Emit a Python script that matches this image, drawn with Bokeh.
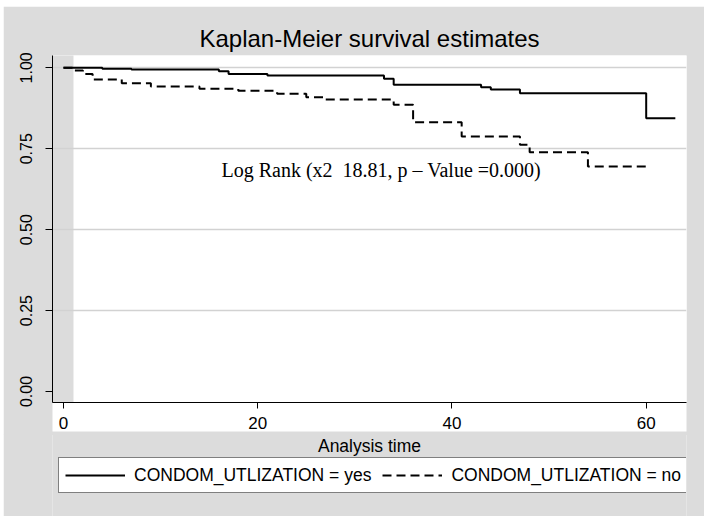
from bokeh.plotting import figure
from bokeh.models import (Range1d, FixedTicker, NumeralTickFormatter, Legend, LegendItem,
                          ColumnDataSource)
from bokeh.layouts import column
from bokeh.core.properties import value
from bokeh.embed import file_html
from bokeh.resources import INLINE

# ---- data ----
time_yes = [0, 4, 7, 16, 17, 21, 33, 34, 43, 44, 47, 60, 63]
surv_yes = [1.000, 0.997, 0.995, 0.989, 0.981, 0.976, 0.966, 0.948, 0.940, 0.933, 0.921, 0.844, 0.844]

time_no = [0, 1, 2, 3, 6, 9, 14, 18, 22, 25, 27, 34, 36, 41, 47, 48, 54, 60]
surv_no = [1.000, 0.992, 0.981, 0.964, 0.952, 0.942, 0.935, 0.929, 0.920, 0.909, 0.902, 0.886,
           0.832, 0.788, 0.762, 0.739, 0.695, 0.695]

x_ticks = [0, 20, 40, 60]
y_ticks = [0.0, 0.25, 0.50, 0.75, 1.00]
grid_ticks = [0.25, 0.50, 0.75, 1.00]

title_text = "Kaplan-Meier survival estimates"
x_label = "Analysis time"
label_yes = "CONDOM_UTLIZATION = yes"
label_no = "CONDOM_UTLIZATION = no"
note_text = "Log Rank (x2 \u00a018.81, p \u2013 Value =0.000)"

BG = "#dcdcdc"
SANS = "Liberation Sans"

# ---------------- main plot ----------------
p = figure(width=701, height=429, output_backend="svg", toolbar_location=None,
           x_range=Range1d(-1.13, 64.15), y_range=Range1d(-0.034, 1.038),
           min_border_left=49, min_border_right=18, min_border_top=49, min_border_bottom=33)
p.margin = (6, 0, 0, 3)

p.background_fill_color = "white"
p.border_fill_color = BG
p.outline_line_color = None

p.title.text = title_text
p.title.align = "center"
p.title.standoff = 8
p.title.text_font = SANS
p.title.text_font_size = "24px"
p.title.text_font_style = "normal"
p.title.text_color = "black"

# gray strip between y-axis and plot region (inside the frame)
p.quad(left=[-5], right=[1.03], bottom=[-1], top=[2], fill_color=BG, line_color=None, level="image")

p.xaxis.ticker = FixedTicker(ticks=x_ticks)
p.yaxis.ticker = FixedTicker(ticks=y_ticks)
p.yaxis.formatter = NumeralTickFormatter(format="0.00")
for ax in (p.xaxis, p.yaxis):
    ax.axis_line_color = "black"
    ax.axis_line_width = 1
    ax.major_tick_line_color = "black"
    ax.major_tick_in = 0
    ax.minor_tick_line_color = None
    ax.major_label_text_font = SANS
    ax.major_label_text_color = "black"
p.xaxis.major_tick_out = 6
p.yaxis.major_tick_out = 7
p.xaxis.major_label_text_font_size = "17px"
p.yaxis.major_label_text_font_size = "16px"
p.yaxis.major_label_orientation = "vertical"
p.yaxis.major_label_standoff = 13
p.xaxis.major_label_standoff = 8

xax = p.xaxis[0]
if "background_fill_color" in xax.properties():
    xax.background_fill_color = "white"

p.xgrid.visible = False
p.ygrid.ticker = FixedTicker(ticks=grid_ticks)
p.ygrid.grid_line_color = "#d2d2d2"
p.ygrid.grid_line_width = 1.5

src_yes = ColumnDataSource(dict(t=time_yes, s=surv_yes))
src_no = ColumnDataSource(dict(t=time_no, s=surv_no))
p.step("t", "s", source=src_yes, mode="after", line_color="black", line_width=2)
p.step("t", "s", source=src_no, mode="after", line_color="black", line_width=2, line_dash="9 5")

p.text(x=[16.27], y=[0.683], text=[note_text], text_font=value("Liberation Serif"),
       text_font_size="20px", text_color="black", text_baseline="alphabetic", text_align="left")

# ---------------- axis title + legend strip (pixel-like coordinates) ----------------
p2 = figure(width=701, height=82, output_backend="svg", toolbar_location=None, title=None,
            x_range=Range1d(0, 634), y_range=Range1d(0, 82), x_axis_type=None, y_axis_type=None,
            min_border_left=0, min_border_right=0, min_border_top=0, min_border_bottom=0)
p2.margin = (-1, 0, 0, 3)
p2.background_fill_color = BG
p2.border_fill_color = BG
p2.outline_line_color = None
p2.grid.visible = False

# x-axis title of the chart
p2.text(x=[317], y=[71], text=[x_label], text_font=value(SANS), text_font_size="17.5px",
        text_color="black", text_align="center", text_baseline="alphabetic")

# legend keys: the same curves, mapped to an off-screen range so only their style is used
p2.extra_x_ranges = {"off": Range1d(1000, 1001)}
p2.extra_y_ranges = {"off": Range1d(1000, 1001)}
key_yes = p2.step("t", "s", source=src_yes, mode="after", line_color="black", line_width=2,
                  x_range_name="off", y_range_name="off")
key_no = p2.step("t", "s", source=src_no, mode="after", line_color="black", line_width=2,
                 line_dash="9 5", x_range_name="off", y_range_name="off")

legend = Legend(items=[LegendItem(label=label_yes, renderers=[key_yes]),
                       LegendItem(label=label_no, renderers=[key_no])],
                orientation="horizontal", location=(6, 23),
                label_text_font=SANS, label_text_font_size="17.5px", label_text_color="black",
                glyph_width=60, glyph_height=22, label_height=22, label_standoff=9,
                spacing=11, padding=6, margin=0,
                border_line_color="black", border_line_width=1.2,
                background_fill_color="white", background_fill_alpha=1.0)
p2.add_layout(legend, "center")

layout = column(p, p2, spacing=0)

open("out.html", "w").write(file_html(layout, INLINE))
